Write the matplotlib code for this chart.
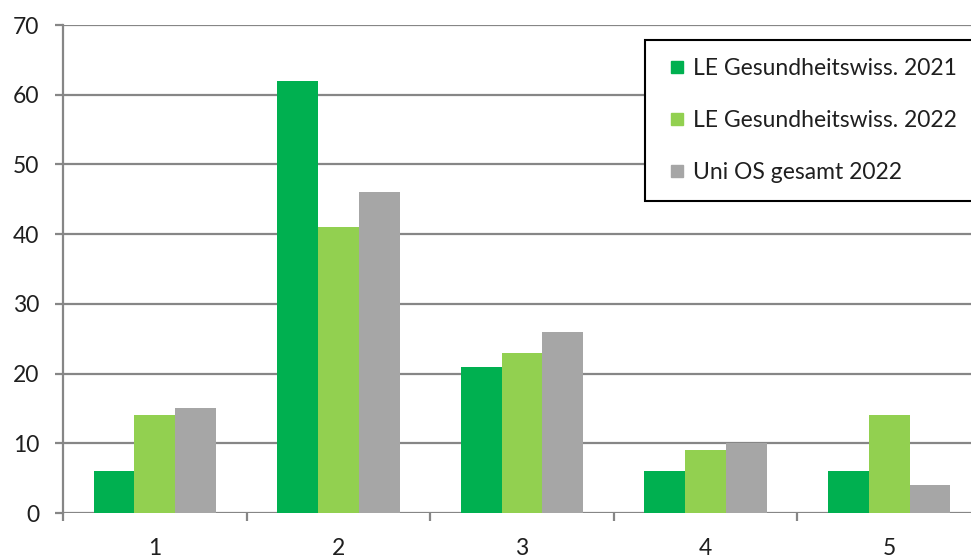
import numpy as np
import matplotlib.pyplot as plt
from matplotlib.lines import Line2D

# values
categories = ["1", "2", "3", "4", "5"]
le_2021 = [6, 62, 21, 6, 6]
le_2022 = [14, 41, 23, 9, 14]
uni_2022 = [15, 46, 26, 10, 4]
series_names = ["LE Gesundheitswiss. 2021", "LE Gesundheitswiss. 2022", "Uni OS gesamt 2022"]
colors = ["#00B050", "#92D050", "#A6A6A6"]

plt.rcParams["font.family"] = ["Lato", "DejaVu Sans"]
txt_col = "#1f1f1f"

fig = plt.figure(figsize=(9.71, 5.59), dpi=100)
# the plot area runs a bit past the right edge of the picture, like the reference
ax = fig.add_axes([63 / 971, 1 - 513 / 559, 918 / 971, 488 / 559])

x = np.arange(len(categories))
width = 1 / 4.5  # Excel gap width 150 %
for i, (vals, name, col) in enumerate(zip([le_2021, le_2022, uni_2022], series_names, colors)):
    ax.bar(x + (i - 1) * width, vals, width, color=col, label=name, zorder=3)

ax.set_xlim(-0.5, len(categories) - 0.5)
ax.set_ylim(0, 70)
ax.set_yticks(range(0, 71, 10))
ax.yaxis.grid(True, color="#868686", linewidth=1.6, zorder=0)

for side in ["top", "right", "bottom"]:
    ax.spines[side].set_visible(False)
ax.spines["left"].set_color("#868686")
ax.spines["left"].set_linewidth(1.6)

ax.set_xticks(x)
ax.set_xticklabels(categories)
ax.set_xticks(np.arange(-0.5, len(categories)), minor=True)
ax.tick_params(axis="x", which="major", length=0, pad=18, labelsize=16.5, labelcolor=txt_col)
ax.tick_params(axis="x", which="minor", length=6, width=1.6, color="#868686")
ax.tick_params(axis="y", length=6, width=1.6, color="#868686", pad=11, labelsize=16.5, labelcolor=txt_col)

# small square legend markers, placed like the reference
handles = [Line2D([], [], linestyle="none", marker="s", markersize=8.6,
                  markerfacecolor=c, markeredgecolor=c) for c in colors]
leg = ax.legend(handles, series_names, loc="upper left",
                bbox_to_anchor=(645 / 971, 1 - 40 / 559),
                bbox_transform=fig.transFigure, borderaxespad=0, fontsize=16.5,
                frameon=True, fancybox=False, edgecolor="black", framealpha=1,
                handlelength=1.25, handletextpad=0.05,
                labelspacing=1.36, borderpad=0.78)
leg.get_frame().set_linewidth(1.5)
for t in leg.get_texts():
    t.set_color(txt_col)

fig.savefig("out.png", dpi=100)
